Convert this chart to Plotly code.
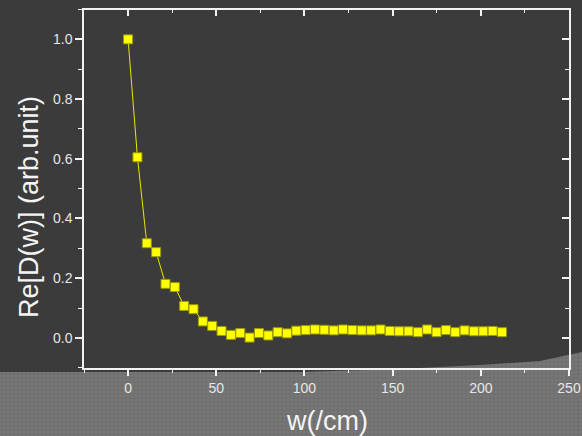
import plotly.graph_objects as go

# ---- data ----
w_values = [0, 5.3, 10.6, 15.9, 21.2, 26.5, 31.8, 37.1, 42.4, 47.7,
            53.0, 58.3, 63.6, 68.9, 74.2, 79.5, 84.8, 90.1, 95.4, 100.7,
            106.0, 111.3, 116.6, 121.9, 127.2, 132.5, 137.8, 143.1, 148.4, 153.7,
            159.0, 164.3, 169.6, 174.9, 180.2, 185.5, 190.8, 196.1, 201.4, 206.7,
            212.0]
re_d = [1.000, 0.605, 0.317, 0.287, 0.181, 0.170, 0.107, 0.096, 0.055, 0.040,
        0.023, 0.010, 0.016, 0.001, 0.016, 0.008, 0.019, 0.015, 0.024, 0.026,
        0.028, 0.027, 0.025, 0.028, 0.026, 0.025, 0.025, 0.028, 0.023, 0.022,
        0.022, 0.019, 0.028, 0.019, 0.026, 0.019, 0.025, 0.022, 0.022, 0.023,
        0.019]
x_ticks = [0, 50, 100, 150, 200, 250]
y_ticks = [0.0, 0.2, 0.4, 0.6, 0.8, 1.0]
x_title = "w(/cm)"
y_title = "Re[D(w)] (arb.unit)"

# decorative slide texture outline (pixel space of the page)
texture_x = [0, 300, 400, 480, 540, 582, 582, 0, 0]
texture_y = [372, 372, 369, 365, 361, 352, 436, 436, 372]

W, H = 582, 436
BG = "#3b3b3b"
AX = "#f2f2f2"
TXT = "#e6e6e6"

fig = go.Figure()

# background texture on a full-page subplot (drawn first, at the bottom)
fig.add_trace(go.Scatter(
    x=texture_x, y=texture_y, mode="lines", fill="toself",
    line=dict(width=0, color="rgba(0,0,0,0)"),
    fillcolor="#747474",
    fillpattern=dict(shape="+", bgcolor="#787878", fgcolor="#5c5c5c",
                     size=4, solidity=0.35),
    hoverinfo="skip", showlegend=False, xaxis="x", yaxis="y"))

# data
fig.add_trace(go.Scatter(
    x=w_values, y=re_d, mode="lines+markers",
    line=dict(color="#e8e800", width=1),
    marker=dict(symbol="square", size=9, color="#ffff00",
                line=dict(color="#9a9a00", width=1)),
    showlegend=False, xaxis="x2", yaxis="y2", cliponaxis=False))

# empty trace to host mirrored (inside) ticks on top/right
fig.add_trace(go.Scatter(x=[None], y=[None], showlegend=False,
                         xaxis="x3", yaxis="y3", hoverinfo="skip"))

xdom = [84 / W, 569 / W]
ydom = [1 - 367.7 / H, 1 - 9.5 / H]
xr = [-25, 250]
yr = [-0.1, 1.1]
tickfont = dict(family="Liberation Sans, Arial, sans-serif", size=14, color=TXT)

fig.update_layout(
    width=W, height=H,
    margin=dict(l=0, r=0, t=0, b=0, autoexpand=False),
    paper_bgcolor=BG, plot_bgcolor="rgba(0,0,0,0)",
    showlegend=False,
    xaxis=dict(domain=[0, 1], range=[0, W], visible=False, fixedrange=True),
    yaxis=dict(domain=[0, 1], range=[H, 0], visible=False, fixedrange=True),
    xaxis2=dict(domain=xdom, range=xr, anchor="y2", automargin=False,
                showline=True, linecolor=AX, linewidth=1.5,
                showgrid=False, zeroline=False,
                ticks="outside", ticklen=7, tickwidth=1.5, tickcolor=AX,
                tickvals=x_ticks, ticktext=[str(v) for v in x_ticks],
                tickfont=tickfont,
                minor=dict(dtick=25, tick0=0, ticks="outside", ticklen=4,
                           tickwidth=1.2, tickcolor=AX, showgrid=False)),
    yaxis2=dict(domain=ydom, range=yr, anchor="x2", automargin=False,
                showline=True, linecolor=AX, linewidth=1.5,
                showgrid=False, zeroline=False,
                ticks="outside", ticklen=7, tickwidth=1.5, tickcolor=AX,
                tickvals=y_ticks, ticktext=["%.1f" % v for v in y_ticks],
                tickfont=tickfont,
                minor=dict(dtick=0.1, tick0=0, ticks="outside", ticklen=4,
                           tickwidth=1.2, tickcolor=AX, showgrid=False)),
    xaxis3=dict(domain=xdom, range=xr, anchor="y3", overlaying="x2", side="top",
                showline=True, linecolor=AX, linewidth=1.5,
                showgrid=False, zeroline=False, showticklabels=False,
                ticks="inside", ticklen=7, tickwidth=1.5, tickcolor=AX,
                tickvals=x_ticks,
                minor=dict(dtick=25, tick0=0, ticks="inside", ticklen=4,
                           tickwidth=1.2, tickcolor=AX, showgrid=False)),
    yaxis3=dict(domain=ydom, range=yr, anchor="x3", overlaying="y2", side="right",
                showline=True, linecolor=AX, linewidth=1.5,
                showgrid=False, zeroline=False, showticklabels=False,
                ticks="inside", ticklen=7, tickwidth=1.5, tickcolor=AX,
                tickvals=y_ticks,
                minor=dict(dtick=0.1, tick0=0, ticks="inside", ticklen=4,
                           tickwidth=1.2, tickcolor=AX, showgrid=False)),
    annotations=[
        dict(text=x_title, xref="paper", yref="paper",
             x=326.5 / W, y=1 - 421 / H, xanchor="center", yanchor="middle",
             showarrow=False,
             font=dict(family="Liberation Sans, Arial, sans-serif", size=27, color="#f4f4f4")),
        dict(text=y_title, xref="paper", yref="paper", textangle=-90,
             x=28.5 / W, y=1 - 207.5 / H, xanchor="center", yanchor="middle",
             showarrow=False,
             font=dict(family="Liberation Sans, Arial, sans-serif", size=27, color="#f4f4f4")),
    ],
)

fig.write_html(
    "out.html",
    config={"responsive": False, "displayModeBar": False},
    post_script=(
        "document.documentElement.style.margin='0';"
        "document.body.style.margin='0';"
        "document.body.style.padding='0';"
        "document.documentElement.style.overflow='hidden';"
        "document.body.style.overflow='hidden';"
        "document.body.style.background='" + BG + "';"
    ),
)
